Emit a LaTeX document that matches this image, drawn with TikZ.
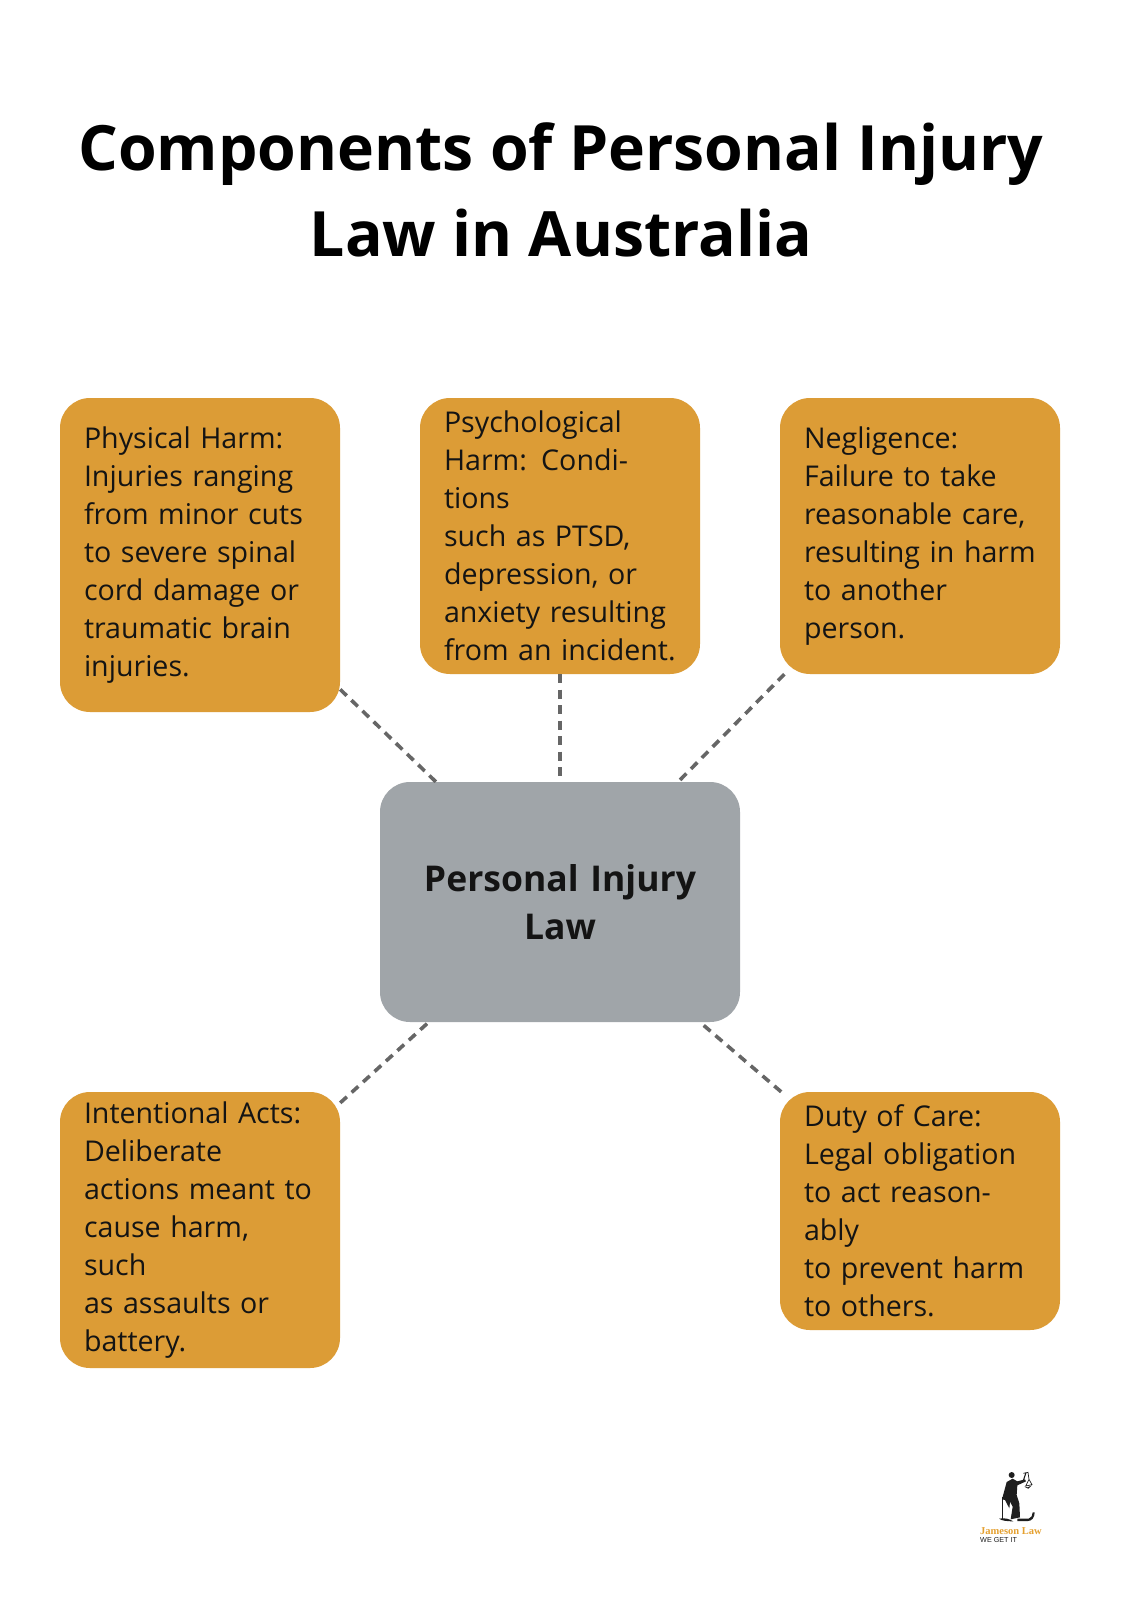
\documentclass[tikz,border=0pt]{standalone}
\usepackage{fontspec}
\setmainfont{Open Sans}
\newfontfamily\logoserif{Liberation Serif}
\newfontfamily\logosans{Liberation Sans}
\usetikzlibrary{backgrounds}
\definecolor{amberbox}{HTML}{DC9C36}
\definecolor{greybox}{HTML}{A0A5A9}
\definecolor{linkgrey}{HTML}{666666}
\definecolor{logoink}{HTML}{1E1E1E}
\definecolor{logoamber}{HTML}{E5A02F}
\pgfdeclarelayer{shadowlayer}
\pgfsetlayers{background,shadowlayer,main}
\newcommand{\softshadow}[4]{% node, dx, dy, blur
  \begin{pgfonlayer}{shadowlayer}
    \foreach \k in {0,...,15}{
      \pgfmathsetmacro{\gr}{#4*(1-\k/7.5)}
      \pgfmathsetmacro{\rad}{max(30+\gr,8)}
      \fill[black,opacity=0.0165,rounded corners=\rad pt]
        ([shift={(#2-\gr,#3-\gr)}]#1.north west) rectangle ([shift={(#2+\gr,#3+\gr)}]#1.south east);
    }
  \end{pgfonlayer}}
\tikzset{
  x=1pt,y=-1pt,
  infobox/.style={rectangle,rounded corners=30pt,fill=amberbox,text=black!92,
    minimum width=280pt,text width=232pt,inner xsep=24pt,inner ysep=0pt,align=left,
    font=\fontsize{28.6}{38}\selectfont},
  hubbox/.style={rectangle,rounded corners=30pt,fill=greybox,text=black!92,
    minimum width=360pt,text width=320pt,inner xsep=20pt,inner ysep=0pt,align=center,
    font=\fontsize{35.5}{48}\selectfont\bfseries},
  link/.style={draw=linkgrey,line width=3.6pt,dash pattern=on 9pt off 6.5pt},
  titletext/.style={align=center,text=black,inner sep=0pt,font=\fontsize{62.5}{86}\selectfont\bfseries},
}
\begin{document}
\begin{tikzpicture}
\useasboundingbox (0,0) rectangle (1120,1608);
\fill[white] (0,0) rectangle (1120,1608);

\node[titletext] (title) at (561,190) {Components of Personal Injury\\Law in Australia};

\node[infobox,minimum height=314pt] (physical) at (200,555) {Physical Harm:\\Injuries ranging\\from minor cuts\\to severe spinal\\cord damage or\\traumatic brain\\injuries.};
\node[infobox,minimum height=276pt] (psych) at (560,536) {Psychological\\Harm: Conditions\\such as PTSD,\\depression, or\\anxiety resulting\\from an incident.};
\node[infobox,minimum height=276pt] (negligence) at (920,536) {Negligence:\\Failure to take\\reasonable care,\\resulting in harm\\to another\\person.};
\node[hubbox,minimum height=240pt] (hub) at (560,902) {Personal Injury\\Law};
\node[infobox,minimum height=276pt] (intent) at (200,1230) {Intentional Acts:\\Deliberate\\actions meant to\\cause harm, such\\as assaults or\\battery.};
\node[infobox,minimum height=238pt] (duty) at (920,1211) {Duty of Care:\\Legal obligation\\to act reasonably\\to prevent harm\\to others.};

\softshadow{physical}{8}{11}{15}
\softshadow{psych}{8}{11}{15}
\softshadow{negligence}{8}{11}{15}
\softshadow{intent}{8}{11}{15}
\softshadow{duty}{8}{11}{15}
\softshadow{hub}{2}{10}{22}

\draw[link] (physical) -- (hub);
\draw[link] (psych) -- (hub);
\draw[link] (negligence) -- (hub);
\draw[link] (intent) -- (hub);
\draw[link] (duty) -- (hub);

% logo
\begin{scope}[shift={(960,1440)},scale=0.3333]
  \fill[logoink] (155,105) circle (9);
  \fill[logoink] (140,126) -- (158,116) -- (172,124) -- (195,118) -- (198,124) -- (172,136)
     -- (170,165) -- (178,190) -- (180,232) -- (152,238) -- (158,200) -- (150,185) -- (148,205) -- (135,180) -- (126,178) -- cycle;
  \draw[logoink,line width=1.1pt] (190,122) -- (198,98);
  \draw[logoink,line width=0.7pt] (190,100) -- (204,97) -- (207,118) -- (197,138) -- (216,134) -- (207,118);
  \fill[logoink] (193,140) -- (203,142) -- (215,136) -- (205,146) -- cycle;
  \draw[logoink,line width=1.2pt] (128,172) -- (128,238);
  \fill[logoink] (117,236) .. controls (135,232) and (150,238) .. (160,244) .. controls (140,244) and (125,242) .. (117,236) -- cycle;
  \fill[logoink] (172,236) -- (206,236) .. controls (214,234) and (218,226) .. (218,217) -- (224,217) .. controls (224,232) and (216,243) .. (204,243) -- (172,243) -- cycle;
  \node[anchor=west,inner sep=0pt,text=logoamber,font=\fontsize{10.5}{12}\selectfont\logoserif\bfseries] (logoname) at (60,272) {Jameson Law};
  \node[anchor=west,inner sep=0pt,text=logoink,font=\fontsize{7.2}{9}\selectfont\logosans] (logotag) at (60,300) {WE GET IT};
\end{scope}
\end{tikzpicture}
\end{document}
